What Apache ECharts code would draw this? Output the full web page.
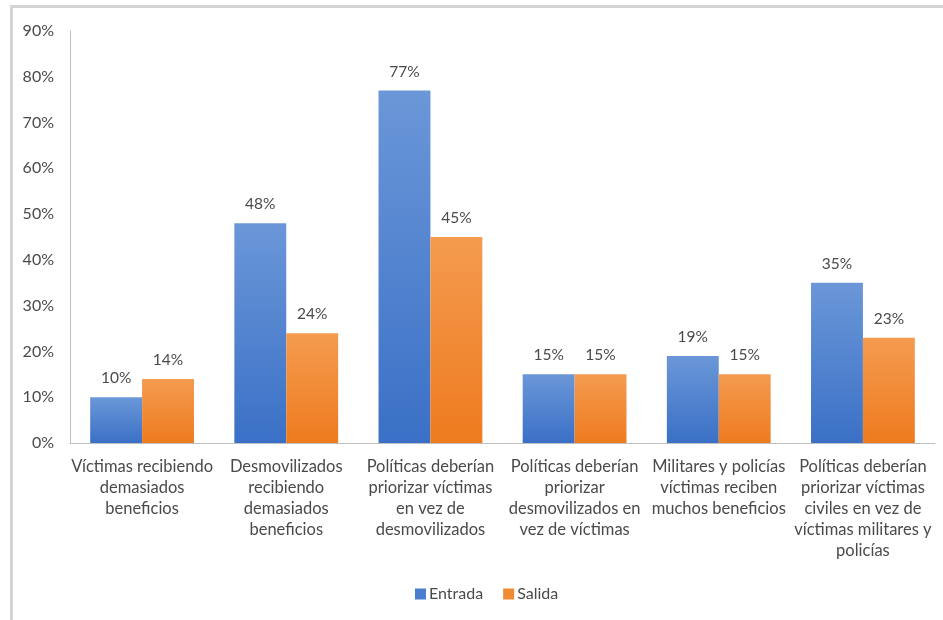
<!DOCTYPE html>
<html>
<head>
<meta charset="utf-8">
<script src="https://cdn.jsdelivr.net/npm/echarts@6/dist/echarts.min.js"></script>
<style>
  html, body { margin: 0; padding: 0; background: #fff; }
  #frame { position: absolute; left: 10px; top: 5px; width: 933px; height: 615px;
           border-left: 3px solid #d4d4d4; border-top: 3px solid #d4d4d4; box-sizing: border-box; }
  #chart { position: absolute; left: 0; top: 0; width: 943px; height: 620px; }
</style>
</head>
<body>
<div id="frame"></div>
<div id="chart"></div>
<script>
const categories = [
  'Víctimas recibiendo\ndemasiados\nbeneficios',
  'Desmovilizados\nrecibiendo\ndemasiados\nbeneficios',
  'Políticas deberían\npriorizar víctimas\nen vez de\ndesmovilizados',
  'Políticas deberían\npriorizar\ndesmovilizados en\nvez de víctimas',
  'Militares y policías\nvíctimas reciben\nmuchos beneficios',
  'Políticas deberían\npriorizar víctimas\nciviles en vez de\nvíctimas militares y\npolicías'
];
const entrada = [10, 48, 77, 15, 19, 35];
const salida = [14, 24, 45, 15, 15, 23];
const seriesNames = ['Entrada', 'Salida'];

const font = 'Lato, "Open Sans", sans-serif';
const textColor = '#4a4a4a';

function grad(top, bottom) {
  return new echarts.graphic.LinearGradient(0, 0, 0, 1, [
    { offset: 0, color: top }, { offset: 1, color: bottom }
  ]);
}

const chart = echarts.init(document.getElementById('chart'), null, { renderer: 'canvas' });
chart.setOption({
  animation: false,
  backgroundColor: 'transparent',
  textStyle: { fontFamily: font },
  grid: { left: 70, right: 8, top: 31, bottom: 177, containLabel: false },
  legend: {
    data: [
      { name: seriesNames[0], itemStyle: { color: '#4a7fcf' } },
      { name: seriesNames[1], itemStyle: { color: '#f08a34' } }
    ],
    bottom: 13,
    left: 410,
    itemWidth: 11, itemHeight: 11, itemGap: 20,
    icon: 'rect',
    textStyle: { fontFamily: font, fontSize: 16, color: textColor, padding: [0, 0, 0, -2] }
  },
  xAxis: {
    type: 'category',
    data: categories,
    axisLine: { lineStyle: { color: '#bfbfbf', width: 1 } },
    axisTick: { show: false },
    axisLabel: { interval: 0, color: textColor, fontSize: 16.5, lineHeight: 21, margin: 13, fontFamily: font }
  },
  yAxis: {
    type: 'value',
    min: 0, max: 90, interval: 10,
    axisLine: { show: true, lineStyle: { color: '#bfbfbf', width: 1 } },
    axisTick: { show: false },
    splitLine: { show: false },
    axisLabel: { formatter: '{value}%', color: textColor, fontSize: 16, margin: 16, fontFamily: font }
  },
  series: [
    {
      name: seriesNames[0], type: 'bar', data: entrada,
      barWidth: '36%', barGap: '0%',
      itemStyle: { color: grad('#6b97d8', '#3a70c6') },
      label: { show: true, position: 'top', distance: 11, formatter: '{c}%', color: textColor, fontSize: 15.5, fontFamily: font }
    },
    {
      name: seriesNames[1], type: 'bar', data: salida,
      barWidth: '36%',
      itemStyle: { color: grad('#f49b4f', '#ee7b1f') },
      label: { show: true, position: 'top', distance: 11, formatter: '{c}%', color: textColor, fontSize: 15.5, fontFamily: font }
    }
  ]
});
</script>
</body>
</html>
